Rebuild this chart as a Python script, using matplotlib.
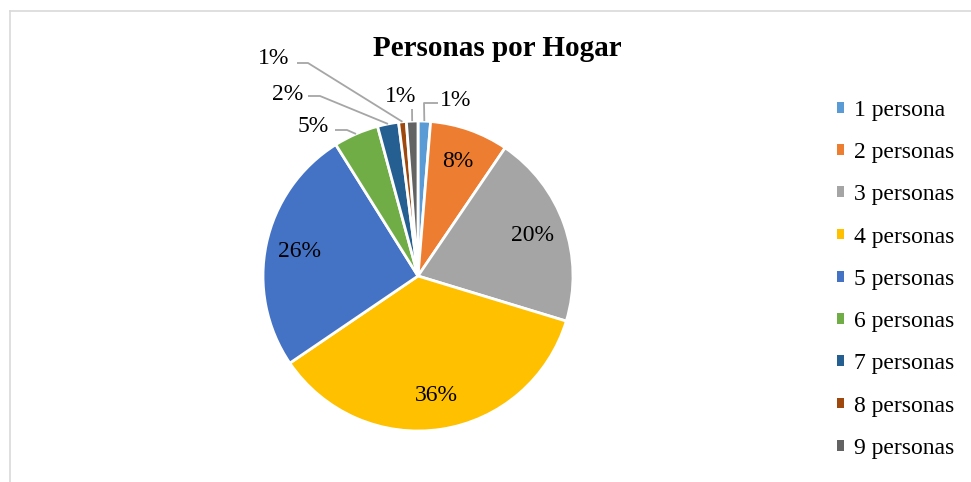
import numpy as np
import matplotlib
matplotlib.use("Agg")
import matplotlib.pyplot as plt
from matplotlib.patches import Patch

plt.rcParams['font.family'] = ['Liberation Serif', 'DejaVu Serif']

# datos (porcentajes)
categorias = ["1 persona", "2 personas", "3 personas", "4 personas", "5 personas",
              "6 personas", "7 personas", "8 personas", "9 personas"]
valores = [1.3, 8.2, 20.2, 35.8, 25.6, 4.7, 2.2, 0.8, 1.2]
etiquetas = ["1%", "8%", "20%", "36%", "26%", "5%", "2%", "1%", "1%"]
colores = ["#5B9BD5", "#ED7D31", "#A5A5A5", "#FFC000", "#4472C4",
           "#70AD47", "#255E91", "#9E480E", "#636363"]

W, H = 971, 482
fig = plt.figure(figsize=(W / 100, H / 100), dpi=100)
ax = fig.add_axes([0, 0, 1, 1])

cx, cy, R = 418, H - 276, 155
wedges, _ = ax.pie(valores, colors=colores, startangle=90, counterclock=False,
                   center=(cx, cy), radius=R, frame=True,
                   wedgeprops=dict(edgecolor="white", linewidth=2))
ax.set_xlim(0, W)
ax.set_ylim(0, H)
ax.set_aspect("equal")
ax.axis("off")

# etiquetas internas
for i in [1, 2, 3, 4]:
    w = wedges[i]
    ang = np.deg2rad((w.theta1 + w.theta2) / 2)
    x = cx + 0.78 * R * np.cos(ang)
    y = cy + 0.78 * R * np.sin(ang)
    ax.text(x, y, etiquetas[i], ha="center", va="center", fontsize=17)

# etiquetas externas con lineas guia: (indice, texto x, texto y, codo, fin)
externas = [
    (0, 456, 100, (424, 103), (438, 103)),
    (8, 401, 97, (412, 109), None),
    (7, 274, 58, (308, 63), (297, 63)),
    (6, 288, 94, (320, 96), (308, 96)),
    (5, 313, 127, (347, 130), (335, 130)),
]
for i, tx, ty, codo, fin in externas:
    w = wedges[i]
    ang = np.deg2rad((w.theta1 + w.theta2) / 2)
    px = cx + 1.0 * R * np.cos(ang)
    py = cy + 1.0 * R * np.sin(ang)
    xs = [px, codo[0]]
    ys = [py, H - codo[1]]
    if fin is not None:
        xs.append(fin[0])
        ys.append(H - fin[1])
    ax.plot(xs, ys, color="#A6A6A6", linewidth=1.3, solid_capstyle="butt")
    ax.text(tx, H - ty, etiquetas[i], ha="center", va="center", fontsize=17)

ax.text(497, H - 48, "Personas por Hogar", ha="center", va="center",
        fontsize=21, fontweight="bold")

# borde del area del grafico
ax.plot([10, W], [H - 11, H - 11], color="#D9D9D9", linewidth=1.2)
ax.plot([10, 10], [H - 11, 0], color="#D9D9D9", linewidth=1.2)

handles = [Patch(facecolor=c, edgecolor="none") for c in colores]
leg = ax.legend(handles, categorias, loc="upper left",
                bbox_to_anchor=(825 / W, 1 - 88 / H), frameon=False,
                fontsize=17, handlelength=0.32, handleheight=0.32,
                handletextpad=0.42, labelspacing=0.9, borderpad=0)

fig.savefig("out.png", dpi=100)
